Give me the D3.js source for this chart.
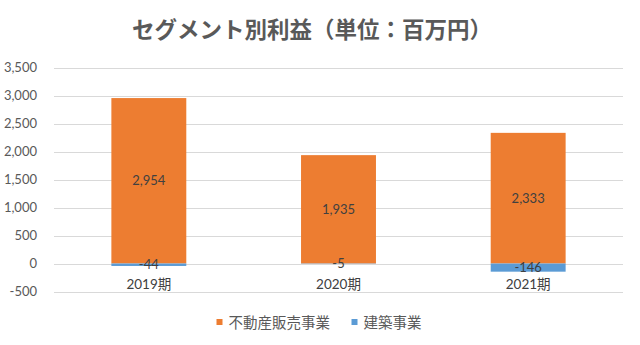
<!DOCTYPE html>
<html><head><meta charset="utf-8">
<script src="https://cdn.jsdelivr.net/npm/d3@7"></script>
<style>
html,body{margin:0;padding:0;background:#fff;}
svg{display:block;}
</style></head>
<body><svg id="c" width="640" height="345"></svg>
<script>
const title = "セグメント別利益（単位：百万円）";
const categories = ["2019期", "2020期", "2021期"];
const seriesNames = ["不動産販売事業", "建築事業"];
const realEstate = [2954, 1935, 2333];
const construction = [-44, -5, -146];
const yTicks = [-500, 0, 500, 1000, 1500, 2000, 2500, 3000, 3500];
const colors = ["#ED7D31", "#5B9BD5"];

const svg = d3.select("#c");
const fontLat = "Lato, 'Noto Sans CJK JP', sans-serif";
const fontJP = "'Noto Sans CJK JP', sans-serif";
const fmt = d3.formatLocale({decimal: ".", thousands: ",", grouping: [3], currency: ["", ""], minus: "-"}).format(",");

const x = d3.scaleBand().domain(categories).range([54, 623]).padding(0);
const barW = x.bandwidth() * 0.395;
const y = d3.scaleLinear().domain([-500, 3500]).range([291.5, 67.5]);

// gridlines
svg.append("g").selectAll("line").data(yTicks).join("line")
  .attr("x1", 54).attr("x2", 623)
  .attr("y1", d => Math.round(y(d)) + 0.5).attr("y2", d => Math.round(y(d)) + 0.5)
  .attr("stroke", "#D9D9D9").attr("stroke-width", 1);

// y axis labels
const yAxis = d3.axisLeft(y).tickValues(yTicks).tickFormat(fmt).tickSize(0).tickPadding(0);
const gy = svg.append("g").attr("transform", "translate(37,0)").call(yAxis);
gy.select(".domain").remove();
gy.selectAll("text").attr("font-family", fontLat).attr("font-size", 13).attr("fill", "#595959");

// stacked data
const table = categories.map((c, i) => ({cat: c, a: realEstate[i], b: construction[i]}));
const stack = d3.stack().keys(["a", "b"]).offset(d3.stackOffsetDiverging);
const layers = stack(table);

const g = svg.append("g");
layers.forEach((layer, li) => {
  g.append("g").selectAll("rect").data(layer).join("rect")
    .attr("x", d => x(d.data.cat) + (x.bandwidth() - barW) / 2)
    .attr("width", barW)
    .attr("y", d => y(Math.max(d[0], d[1])))
    .attr("height", d => Math.abs(y(d[0]) - y(d[1])))
    .attr("fill", colors[li]);
});
// labels
layers.forEach((layer, li) => {
  g.append("g").selectAll("text").data(layer).join("text")
    .attr("x", d => x(d.data.cat) + x.bandwidth() / 2)
    .attr("y", d => y((d[0] + d[1]) / 2))
    .attr("dy", "0.35em")
    .attr("text-anchor", "middle")
    .attr("font-family", fontLat).attr("font-size", 13).attr("fill", "#404040")
    .text(d => fmt(d.data[li === 0 ? "a" : "b"]));
});

// category labels
const xAxis = d3.axisBottom(x).tickSize(0).tickPadding(0);
const gx = svg.append("g").attr("transform", "translate(0,279)").call(xAxis);
gx.select(".domain").remove();
gx.selectAll("text").attr("font-family", fontLat).attr("font-size", 13.5).attr("fill", "#404040").attr("dy", "0.35em").attr("y", 5);

// title
svg.append("text").attr("x", 312).attr("y", 30).attr("text-anchor", "middle")
  .attr("dy", "0.35em")
  .attr("font-family", fontJP).attr("font-weight", "bold").attr("font-size", 22.5)
  .attr("fill", "#595959").text(title);

// legend
const legendItems = [{name: seriesNames[0], c: colors[0], x: 216.5}, {name: seriesNames[1], c: colors[1], x: 351.5}];
const lg = svg.append("g").selectAll("g").data(legendItems).join("g")
  .attr("transform", d => `translate(${d.x},319)`);
lg.append("rect").attr("width", 6).attr("height", 6).attr("fill", d => d.c);
lg.append("text").attr("x", 12).attr("y", 3.5).attr("dy", "0.35em")
  .attr("font-family", fontJP).attr("font-size", 14.5).attr("fill", "#595959")
  .text(d => d.name);
</script>
</body></html>
